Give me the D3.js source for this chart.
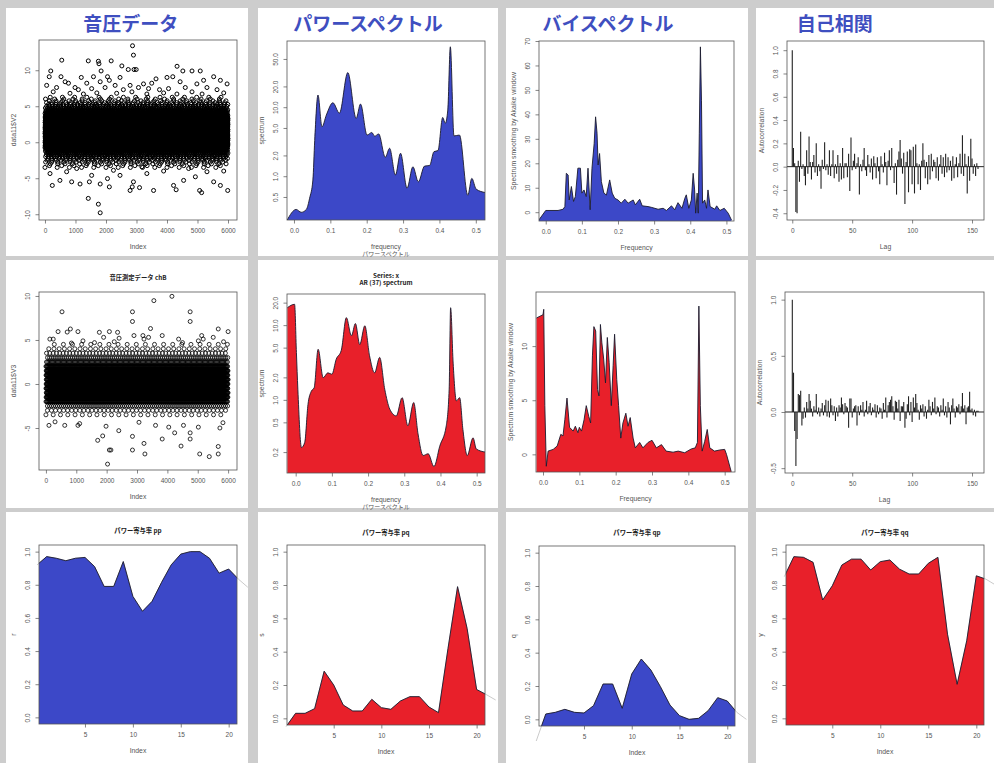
<!DOCTYPE html>
<html>
<head>
<meta charset="utf-8">
<script src="https://cdn.jsdelivr.net/npm/d3@7"></script>
<style>
    body { margin: 0; background: #cdcdcd; }
    svg { display: block; font-family: "Liberation Sans", Arial, sans-serif; }
    .tick text { fill: #555; font-size: 6.5px; }
    .tick line { stroke: #666; stroke-width: 0.8; }
    .lab { fill: #555; font-size: 6.8px; }
    .ttl { fill: #222; font-size: 6.3px; font-weight: bold; font-family: "Noto Sans CJK JP", "Liberation Sans", sans-serif; }
    .big { fill: #3f4fc0; font-size: 19px; font-weight: bold; font-family: "Noto Sans CJK JP", sans-serif; }
    .jp { font-family: "Noto Sans CJK JP", sans-serif; }
</style>
</head>
<body>
<svg id="fig" width="994" height="763"></svg>
<script>
    // ---- data ----
    var bigTitles = ['音圧データ', 'パワースペクトル', 'バイスペクトル', '自己相関'];

    // sound pressure ch A: levels and how many samples sit on each
    var levelsA = [-3.5, -3.25, -3, -2.75, -2.5, -2.25, -2, -1.75, -1.5, -1.25, -1, -0.75,
        -0.5, -0.25, 0, 0.25, 0.5, 0.75, 1, 1.25, 1.5, 1.75, 2, 2.25, 2.5, 2.75, 3, 3.25, 3.5,
        3.75, 4, 4.25, 4.5, 4.75, 5, 5.25, 5.5, 5.75, 6, 6.25];
    var countsA = [15, 15, 25, 30, 40, 50, 65, 80, 100, 130, 170, 260,
        500, 500, 500, 500, 500, 500, 500, 500, 500, 500, 500, 500, 500, 500, 500, 500, 450,
        260, 180, 140, 110, 85, 65, 50, 38, 28, 20, 15];
    var outliersA = [[2870,13.4],[2900,12.1],[550,11.4],[1420,11.3],[1750,11.25],[1770,10.9],[2170,11.3],[2520,10.6],
        [2730,10.1],[2920,10.1],[2990,10.1],[4330,10.55],[190,9.9],[1840,9.9],[4520,9.9],[4820,9.9],[5090,9.9],
        [140,9.1],[525,9.1],[1190,9.0],[1590,9.1],[2050,9.1],[2460,9.0],[3640,8.8],[4000,9.0],[4190,9.1],[5530,9.1],
        [5200,8.6],[660,8.4],[770,8.2],[1370,8.2],[1810,8.4],[2110,8.6],[2300,7.9],[2790,7.9],[3230,8.1],[3500,8.2],
        [4430,8.4],[4980,8.1],[5750,8.6],[5970,8.1],[55,7.9],[380,7.6],[985,7.6],[1095,7.3],[1530,7.45],[1970,7.6],
        [2570,7.3],[3065,7.6],[3395,7.45],[3755,7.3],[4050,7.45],[4600,7.6],[5310,7.6],[5640,7.3],[270,7.0],[820,6.8],
        [1260,6.7],[1700,6.85],[2350,6.8],[2850,7.0],[3340,6.7],[3890,6.85],[4325,6.7],[4820,7.0],[5150,6.7],[5860,6.85],
        [1420,-7.8],[1750,-8.6],[1810,-9.8],[165,-4.35],[240,-6.0],[490,-5.3],[875,-5.5],[1150,-5.8],[1455,-5.5],
        [1530,-4.6],[1810,-5.8],[2050,-5.05],[2110,-6.2],[2460,-4.6],[2790,-6.7],[2860,-6.2],[2900,-5.5],[3100,-6.3],
        [3560,-6.7],[4215,-6.0],[4300,-6.6],[4545,-5.3],[4930,-4.8],[5070,-6.7],[5135,-7.0],[5530,-5.5],[5750,-6.0],
        [5990,-6.7],[710,-4.1],[2245,-3.9],[3340,-4.35],[3890,-4.0],[5310,-4.1],[5860,-4.0],[1040,-3.65],[3175,-3.4],[4710,-3.65]];

    // sound pressure ch B
    var levelsB = [-3.5, -3, -2.5, -2, -1.5, -1, -0.5, 0, 0.5, 1, 1.5, 2, 2.5, 3, 3.5, 4, 4.5];
    var countsB = [25, 45, 90, 300, 450, 450, 450, 450, 450, 450, 450, 330, 150, 95, 55, 35, 20];
    var outliersB = [[4150,9.96],[3555,9.47],[530,8.2],[2850,8.2],[2850,7.1],[4750,8.2],[4750,7.1],[805,6.25],[400,5.95],
        [1055,5.95],[1760,5.87],[2090,5.95],[2360,5.87],[2900,5.5],[3195,5.5],[3445,6.3],[3230,5.1],[3830,5.5],[5130,5.5],
        [5510,5.3],[5675,6.25],[6000,5.95],[130,5.1],[240,5.1],[1220,4.9],[1600,4.7],[2410,5.2],[4370,5.1],[5020,4.9],
        [840,4.65],[5180,5.1],[3380,5.3],[700,5.9],[1900,5.3],[2250,4.8],[4500,4.7],[5850,4.8],
        [2030,-9.1],[1705,-6.4],[1870,-5.9],[2090,-7.5],[2140,-7.5],[2850,-5.95],[2850,-7.5],[3230,-6.75],[3260,-7.95],
        [3830,-6.25],[5065,-7.95],[5380,-8.25],[5675,-7.95],[5675,-7.1],[4240,-5.55],[4750,-6.25],[4750,-5.55],[100,-4.7],
        [620,-4.7],[1055,-4.7],[1110,-4.5],[1980,-4.8],[3065,-4.35],[3610,-4.7],[4045,-4.9],[4530,-4.7],[5020,-4.9],
        [5730,-5.0],[4450,-7.05],[2400,-5.3],[5830,-4.4],[300,-4.3]];

    // power spectrum [frequency, spectrum]
    var powerA = [[-0.019,0.23],[0.006,0.33],[0.02,0.30],[0.034,0.33],[0.043,0.48],[0.052,0.88],[0.057,3.3],[0.066,15],
        [0.077,5.2],[0.089,7.7],[0.107,11.6],[0.125,8.2],[0.148,31.7],[0.171,6.9],[0.183,11.1],[0.201,3.95],[0.214,4.3],
        [0.222,3.8],[0.233,4.1],[0.251,1.88],[0.263,2.54],[0.279,1.04],[0.293,2.15],[0.311,0.67],[0.327,1.37],[0.342,0.83],
        [0.359,1.4],[0.373,1.43],[0.385,2.27],[0.396,2.35],[0.409,7.1],[0.416,5.85],[0.423,9.1],[0.430,75],[0.44,3.83],
        [0.455,3.95],[0.478,0.53],[0.489,0.93],[0.501,0.65],[0.526,0.58]];
    var powerB = [[-0.023,17.1],[-0.003,19],[0.002,4.3],[0.006,1.39],[0.016,0.23],[0.025,0.27],[0.034,0.87],[0.043,1.3],
        [0.051,1.45],[0.062,4.75],[0.076,1.98],[0.089,2.3],[0.1,2.2],[0.112,3.5],[0.126,4.6],[0.14,12.6],[0.154,7.2],
        [0.165,10.5],[0.177,5.5],[0.191,9.8],[0.204,3.9],[0.218,2.3],[0.232,3.7],[0.246,1.39],[0.26,0.75],[0.278,0.61],
        [0.294,1.07],[0.31,0.45],[0.326,0.92],[0.338,0.35],[0.352,0.18],[0.366,0.19],[0.382,0.128],[0.398,0.24],
        [0.416,0.45],[0.424,1.39],[0.428,17.1],[0.435,3.1],[0.444,0.97],[0.453,1.07],[0.462,0.40],[0.474,0.18],
        [0.49,0.31],[0.499,0.22],[0.524,0.2]];

    // bispectrum (Akaike window) [frequency, value]
    var bispecA = [[-0.019,-3.2],[0.0,0.7],[0.034,0.7],[0.048,1.2],[0.053,2.3],[0.057,15.9],[0.062,15.2],[0.065,5.0],
        [0.071,10.5],[0.077,4.4],[0.082,6.4],[0.089,18],[0.096,18],[0.1,7.8],[0.106,9.1],[0.112,6.4],[0.117,18],[0.123,1],
        [0.128,18],[0.134,28],[0.138,39],[0.142,32.3],[0.145,19.3],[0.149,24],[0.154,12.5],[0.161,7.8],[0.168,7],
        [0.177,13.2],[0.184,7.8],[0.191,5.7],[0.2,5.0],[0.209,3.7],[0.219,5.3],[0.228,3.7],[0.242,5],[0.248,3.0],
        [0.26,5.3],[0.267,2.6],[0.283,2.3],[0.292,2.0],[0.311,1.2],[0.325,1.6],[0.334,0.7],[0.348,2.6],[0.357,1],
        [0.366,3.9],[0.377,1.6],[0.385,5.7],[0.389,7.1],[0.396,1.6],[0.403,5],[0.408,15.9],[0.412,9.1],[0.415,-0.4],
        [0.419,7.8],[0.422,-0.4],[0.425,32.3],[0.428,67.6],[0.431,45.8],[0.434,3.7],[0.44,5],[0.445,1.6],[0.449,9.1],
        [0.455,2.3],[0.468,1.2],[0.473,2.6],[0.482,0.7],[0.494,1.6],[0.505,-0.4],[0.514,-3.2]];
    var bispecB = [[-0.018,12.6],[0.0,12.9],[0.002,13.4],[0.005,4.5],[0.009,-1.1],[0.014,0.3],[0.028,0.46],[0.039,0.77],
        [0.049,1.85],[0.055,1.7],[0.06,3.2],[0.066,5.2],[0.073,2.5],[0.083,2.15],[0.089,2.6],[0.096,2.0],[0.1,2.5],
        [0.106,2.15],[0.113,3.2],[0.119,4.5],[0.126,3.5],[0.131,2.9],[0.136,9.1],[0.14,11.8],[0.145,11.4],[0.15,6.0],
        [0.154,5.4],[0.158,12.0],[0.162,10.3],[0.167,8.8],[0.172,6.6],[0.177,10.8],[0.182,8.5],[0.188,4.5],[0.193,8.2],
        [0.197,11.1],[0.203,6.9],[0.208,4.5],[0.214,1.5],[0.22,2.9],[0.228,3.8],[0.234,2.6],[0.24,3.4],[0.248,1.5],
        [0.254,0.6],[0.266,1.1],[0.275,0.6],[0.289,1.1],[0.3,1.3],[0.312,0.6],[0.326,0.9],[0.339,0.3],[0.358,0.2],
        [0.372,0.3],[0.39,0.15],[0.408,0.5],[0.419,0.6],[0.425,1.1],[0.429,13.7],[0.433,4.5],[0.438,0.3],[0.445,1.2],
        [0.452,2.3],[0.459,0.6],[0.472,0.3],[0.486,0.4],[0.5,0.46],[0.505,0.0],[0.518,-1.6]];

    // autocorrelation, lags 0..155
    var acfA = [1.00,0.16,0.03,-0.39,-0.40,0.05,-0.13,0.30,-0.02,0.02,
        -0.08,-0.16,0.14,-0.06,0.26,0.04,-0.11,0.04,0.10,-0.05,
        0.20,-0.08,0.02,-0.04,-0.19,0.06,-0.02,0.21,-0.03,0.02,
        -0.07,0.14,-0.08,0.02,0.14,-0.10,0.02,-0.06,0.10,-0.13,
        0.03,-0.11,0.16,-0.10,0.03,0.03,-0.09,0.11,-0.21,0.25,
        -0.03,0.05,0.11,-0.02,0.03,0.08,-0.24,0.02,-0.04,0.06,
        0.16,-0.03,-0.08,0.10,0.02,-0.05,0.07,-0.11,0.09,0.03,
        -0.10,0.08,-0.04,-0.15,0.09,0.02,-0.05,0.12,0.04,-0.16,
        0.05,0.14,-0.03,0.16,-0.01,-0.14,0.03,-0.24,0.06,0.13,
        0.23,0.07,-0.06,0.12,-0.32,0.04,0.13,-0.22,0.15,0.14,
        -0.15,0.17,-0.23,0.19,0.03,-0.15,0.02,-0.20,0.05,0.20,
        0.06,-0.10,0.04,-0.15,0.10,-0.11,0.11,-0.04,0.06,0.04,
        -0.10,0.08,-0.12,0.02,0.10,-0.06,0.08,-0.09,0.11,-0.05,
        0.08,-0.03,0.05,-0.12,0.09,-0.10,0.02,0.08,-0.09,0.03,
        0.11,-0.06,0.27,-0.08,0.11,0.02,-0.23,0.09,-0.12,0.24,
        0.07,-0.06,0.02,-0.08,0.03,-0.02];
    var acfB = [1.00,0.35,-0.17,-0.48,-0.24,0.16,0.15,0.19,-0.12,-0.06,
        0.04,-0.05,0.09,0.03,0.16,0.10,0.03,-0.04,0.05,0.02,
        0.16,-0.02,0.04,-0.04,0.03,0.08,-0.03,0.06,0.11,-0.04,
        0.10,-0.05,0.12,0.06,-0.03,0.05,-0.08,0.04,-0.04,0.06,
        0.04,0.13,0.07,-0.02,0.08,0.05,0.04,-0.14,0.12,0.12,
        -0.05,0.03,0.05,0.06,-0.12,0.05,-0.03,0.06,0.02,0.09,
        -0.04,0.02,0.10,-0.02,0.05,0.08,-0.03,0.04,0.02,0.07,
        -0.05,0.06,-0.02,0.04,0.03,-0.06,0.08,0.02,0.13,-0.05,
        0.06,0.09,0.11,0.14,0.05,-0.07,0.10,0.09,0.03,0.11,
        -0.08,0.05,0.05,0.09,-0.14,-0.06,0.07,0.14,-0.03,0.09,
        -0.09,0.13,0.04,0.16,0.08,0.02,-0.07,0.06,0.03,0.07,
        -0.04,0.05,-0.06,0.02,0.11,0.05,-0.03,0.09,0.03,0.13,
        -0.02,0.05,0.04,-0.04,0.06,0.02,0.12,-0.03,0.05,-0.05,
        0.09,0.04,-0.11,0.06,0.12,0.03,-0.05,0.05,0.04,0.07,
        -0.02,0.05,0.17,0.03,0.06,-0.11,0.04,0.05,0.18,0.02,
        0.03,-0.03,0.02,-0.04,0.01,0.01];

    // power contribution ratios, index 1..21 (plus the polygon ends at 0 and 22)
    var ratioPP = [0.97,0.96,0.945,0.96,0.965,0.91,0.79,0.79,0.94,0.73,0.64,0.70,0.815,0.92,0.985,1.0,1.0,0.96,0.87,0.895,0.835];
    var ratioPQ = [0.03,0.03,0.058,0.283,0.20,0.08,0.044,0.044,0.114,0.064,0.054,0.104,0.13,0.13,0.068,0.034,0.42,0.79,0.54,0.173,0.143];
    var ratioQP = [0.032,0.042,0.06,0.042,0.038,0.082,0.212,0.212,0.066,0.272,0.362,0.296,0.196,0.086,0.022,0.0,0.006,0.052,0.13,0.11,0.042];
    var ratioQQ = [0.97,0.966,0.936,0.71,0.795,0.92,0.955,0.955,0.89,0.94,0.95,0.895,0.866,0.866,0.93,0.966,0.505,0.204,0.465,0.855,0.835];
    var endsPP = [0.92, 0.785], endsPQ = [-0.05, 0.11], endsQP = [-0.13, 0.0], endsQQ = [0.85, 0.80];

    // ---- drawing ----
    var BLUE = '#3c48c8', RED = '#e8202a';
    var svg = d3.select('#fig');
    svg.append('rect').attr('width', 994).attr('height', 763).attr('fill', '#cdcdcd');

    var colX = [[6, 248], [258, 498], [506, 748], [756, 994]];
    var rowY = [[8, 256], [260, 508], [512, 763]];
    rowY.forEach(function (r) {
        colX.forEach(function (c) {
            svg.append('rect').attr('x', c[0]).attr('y', r[0])
                .attr('width', c[1] - c[0]).attr('height', r[1] - r[0]).attr('fill', '#fff');
        });
    });

    var clipN = 0;
    var fmt1 = function (d) { return d.toFixed(1); };
    var fmt0 = function (d) { return String(d); };

    function frame(b, xs, ys, o) {
        var w = b[2], h = b[3];
        var g = svg.append('g').attr('transform', 'translate(' + b[0] + ',' + b[1] + ')');
        var id = 'clip' + (clipN++);
        g.append('clipPath').attr('id', id).append('rect').attr('width', w).attr('height', h);
        xs.range([0, w]);
        ys.range([h, 0]);
        var under = g.append('g');
        var plot = g.append('g').attr('clip-path', 'url(#' + id + ')');

        var xa = g.append('g').attr('transform', 'translate(0,' + h + ')')
            .call(d3.axisBottom(xs).tickValues(o.xt).tickFormat(o.xf || fmt0).tickSize(3.5).tickPadding(4.5));
        var ya = g.append('g')
            .call(d3.axisLeft(ys).tickValues(o.yt).tickFormat(o.yf || fmt0).tickSize(3.5));
        ya.selectAll('text').attr('x', null).attr('dy', null)
            .attr('text-anchor', 'middle').attr('transform', 'translate(-9.5,0) rotate(-90)');
        xa.select('.domain').remove();
        ya.select('.domain').remove();

        g.append('text').attr('class', 'lab').attr('x', w / 2).attr('y', h + 29)
            .attr('text-anchor', 'middle').text(o.xl);
        if (o.xl2) {
            g.append('text').attr('class', 'lab jp').attr('x', w / 2).attr('y', h + 35.5)
                .attr('text-anchor', 'middle').style('font-size', '6px').text(o.xl2);
        }
        g.append('text').attr('class', 'lab').attr('text-anchor', 'middle')
            .attr('transform', 'translate(-23.5,' + (h / 2) + ') rotate(-90)').text(o.yl);
        if (o.title) {
            o.title.forEach(function (t, i) {
                g.append('text').attr('class', 'ttl').attr('x', w / 2).attr('y', o.ty + i * 7.4)
                    .attr('text-anchor', 'middle').text(t);
            });
        }
        return { g: g, plot: plot, under: under, w: w, h: h, box: function () {
            g.append('rect').attr('width', w).attr('height', h).attr('fill', 'none')
                .attr('stroke', '#555').attr('stroke-width', 0.8);
        } };
    }

    function scatter(b, dom, levels, counts, outliers, sw, o) {
        var xs = d3.scaleLinear().domain(dom[0]), ys = d3.scaleLinear().domain(dom[1]);
        var f = frame(b, xs, ys, o);
        var pts = [];
        levels.forEach(function (v, j) {
            var n = counts[j], step = 6000 / n, ph = ((j * 37) % 100) / 100;
            for (var k = 0; k < n; k++) pts.push([(k + ph) * step, v]);
        });
        outliers.forEach(function (p) { pts.push(p); });
        f.plot.selectAll(null).data(pts).join('circle')
            .attr('cx', function (d) { return xs(d[0]); })
            .attr('cy', function (d) { return ys(d[1]); })
            .attr('r', 2).attr('fill', 'none').attr('stroke', '#000').attr('stroke-width', sw);
        f.box();
    }

    function filled(b, xs, ys, data, color, curve, o) {
        var f = frame(b, xs, ys, o);
        var area = d3.area().curve(curve)
            .x(function (d) { return xs(d[0]); }).y0(f.h)
            .y1(function (d) { return ys(d[1]); });
        var line = d3.line().curve(curve)
            .x(function (d) { return xs(d[0]); })
            .y(function (d) { return ys(d[1]); });
        if (o.tail) {
            // the outline runs a little past the plot region in the original
            f.under.append('path').datum(data).attr('d', line).attr('fill', 'none')
                .attr('stroke', '#c4c4c4').attr('stroke-width', 0.9);
        }
        f.plot.append('path').datum(data).attr('d', area).attr('fill', color);
        f.plot.append('path').datum(data).attr('d', line).attr('fill', 'none')
            .attr('stroke', '#1b1b2e').attr('stroke-width', 0.9);
        f.box();
    }

    function acfPlot(b, dom, acf, o) {
        var xs = d3.scaleLinear().domain(dom[0]), ys = d3.scaleLinear().domain(dom[1]);
        var f = frame(b, xs, ys, o);
        f.plot.selectAll(null).data(acf).join('line')
            .attr('x1', function (d, i) { return xs(i); })
            .attr('x2', function (d, i) { return xs(i); })
            .attr('y1', ys(0)).attr('y2', function (d) { return ys(d); })
            .attr('stroke', '#222').attr('stroke-width', 1.1);
        f.plot.append('line').attr('x1', 0).attr('x2', f.w).attr('y1', ys(0)).attr('y2', ys(0))
            .attr('stroke', '#222').attr('stroke-width', 1);
        f.box();
    }

    function ratioPlot(b, xdom, vals, ends, color, o) {
        var xs = d3.scaleLinear().domain(xdom), ys = d3.scaleLinear().domain([-0.04, 1.04]);
        var data = [[0, ends[0]]].concat(vals.map(function (v, i) { return [i + 1, v]; }), [[22, ends[1]]]);
        o.xt = [5, 10, 15, 20];
        o.yt = [0, 0.2, 0.4, 0.6, 0.8, 1.0];
        o.yf = fmt1;
        o.xl = 'Index';
        o.tail = true;
        filled(b, xs, ys, data, color, d3.curveLinear, o);
    }

    var freqTicks = [0, 0.1, 0.2, 0.3, 0.4, 0.5];

    // row 1
    scatter([39, 40, 198, 180], [[-196, 6295], [-10.8, 14.2]], levelsA, countsA, outliersA, 1.0,
        { xt: [0, 1000, 2000, 3000, 4000, 5000, 6000], yt: [-10, -5, 0, 5, 10], xl: 'Index', yl: 'data11$V2' });
    filled([287, 41, 198, 179], d3.scaleLinear().domain([-0.0192, 0.5253]), d3.scaleLog().domain([0.232, 91]),
        powerA, BLUE, d3.curveMonotoneX,
        { xt: freqTicks, xf: fmt1, yt: [0.5, 1, 2, 5, 10, 20, 50], yf: fmt1, xl: 'frequency', xl2: 'パワースペクトル', yl: 'spectrum' });
    filled([539, 41, 195, 180], d3.scaleLinear().domain([-0.0186, 0.521]), d3.scaleLinear().domain([-3.6, 70]),
        bispecA, BLUE, d3.curveLinear,
        { xt: freqTicks, xf: fmt1, yt: [0, 10, 20, 30, 40, 50, 60, 70], xl: 'Frequency', yl: 'Spectrum smoothing by Akaike window' });
    acfPlot([787, 41, 197, 179], [[-4.4, 160], [-0.458, 1.079]], acfA,
        { xt: [0, 50, 100, 150], yt: [-0.4, -0.2, 0, 0.2, 0.4, 0.6, 0.8, 1.0], yf: fmt1, xl: 'Lag', yl: 'Autocorrelation' });

    // row 2
    scatter([39, 292, 198, 178], [[-228, 6293], [-9.77, 10.45]], levelsB, countsB, outliersB, 0.8,
        { xt: [0, 1000, 2000, 3000, 4000, 5000, 6000], yt: [-5, 0, 5, 10], xl: 'Index', yl: 'data11$V3',
          title: ['音圧測定データ chB'], ty: -12.5 });
    filled([287, 294, 198, 179], d3.scaleLinear().domain([-0.024, 0.523]), d3.scaleLog().domain([0.105, 26.1]),
        powerB, RED, d3.curveMonotoneX,
        { xt: freqTicks, xf: fmt1, yt: [0.2, 0.5, 1, 2, 5, 10, 20], yf: fmt1, xl: 'frequency', xl2: 'パワースペクトル', yl: 'spectrum',
          title: ['Series: x', 'AR (37) spectrum'], ty: -16 });
    filled([536, 292, 199, 180], d3.scaleLinear().domain([-0.0193, 0.5284]), d3.scaleLinear().domain([-1.63, 15]),
        bispecB, RED, d3.curveLinear,
        { xt: freqTicks, xf: fmt1, yt: [0, 5, 10], xl: 'Frequency', yl: 'Spectrum smoothing by Akaike window' });
    acfPlot([785, 292, 199, 181], [[-6.1, 160], [-0.543, 1.068]], acfB,
        { xt: [0, 50, 100, 150], yt: [-0.5, 0, 0.5, 1.0], yf: fmt1, xl: 'Lag', yl: 'Autocorrelation' });

    // row 3
    ratioPlot([39, 545, 198, 179], [0.2, 20.87], ratioPP, endsPP, BLUE, { yl: 'r', title: ['パワー寄与率 pp'], ty: -12 });
    ratioPlot([287, 545, 198, 180], [0.1, 20.88], ratioPQ, endsPQ, RED, { yl: 's', title: ['パワー寄与率 pq'], ty: -10 });
    ratioPlot([539, 546, 196, 180], [0.29, 20.81], ratioQP, endsQP, BLUE, { yl: 'q', title: ['パワー寄与率 qp'], ty: -11 });
    ratioPlot([786, 545, 198, 180], [0.18, 20.8], ratioQQ, endsQQ, RED, { yl: 'y', title: ['パワー寄与率 qq'], ty: -10 });

    // blue headings over the first row
    var headX = [130.8, 368, 608, 834.7];
    bigTitles.forEach(function (t, i) {
        svg.append('text').attr('class', 'big').attr('x', headX[i]).attr('y', 31)
            .attr('text-anchor', 'middle').text(t);
    });
</script>
</body>
</html>
